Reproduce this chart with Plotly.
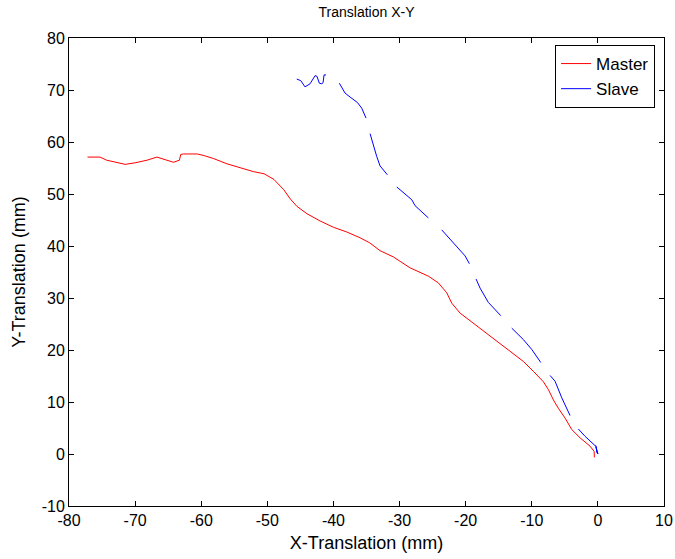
import plotly.graph_objects as go

# Master trajectory (mm)
master_x = [-77.2, -75.3, -74.3, -72.7, -71.5, -70.0, -68.2, -66.7, -66.2, -65.2, -64.2, -63.3,
            -63.1, -62.7, -60.6, -59.6, -58.1, -56.1, -54.1, -52.1, -50.5, -49.0, -47.5, -46.5,
            -45.5, -44.0, -42.0, -40.0, -38.0, -36.0, -34.5, -32.95, -30.94, -28.41, -25.64,
            -24.13, -22.86, -22.10, -20.85, -17.82, -14.80, -13.28, -11.27, -9.76, -8.25, -7.49,
            -6.73, -5.98, -4.96, -3.95, -2.69, -1.18, -0.57, -0.53]
master_y = [57.1, 57.1, 56.5, 56.0, 55.7, 56.0, 56.5, 57.1, 56.9, 56.5, 56.1, 56.5,
            57.6, 57.7, 57.7, 57.4, 56.8, 55.8, 55.0, 54.3, 53.9, 52.8, 50.8, 49.0,
            47.6, 46.2, 44.8, 43.6, 42.7, 41.6, 40.6, 39.1, 37.9, 35.8, 34.2,
            32.9, 31.0, 29.0, 27.1, 24.2, 21.2, 19.7, 17.8, 15.9, 13.9, 12.4,
            10.4, 8.8, 6.9, 4.7, 3.1, 1.5, 0.5, -0.65]

# Slave trajectory (mm), None marks dropouts
slave_x = [-45.55, -44.95, -44.30, -43.54, -42.78, -42.5, -42.13, -41.77, -41.57, -41.42, -41.12, None,
           -39.11, -38.24, -37.49, -36.38, -35.72, -35.07, None,
           -34.46, -33.96, -33.45, -32.95, -31.85, None,
           -30.42, -29.17, -28.15, -27.65, -25.64, None,
           -23.62, -22.36, -20.85, -20.09, -19.44, None,
           -18.43, -17.82, -16.57, -14.69, None,
           -13.03, -11.27, -10.0, -8.64, None,
           -7.23, -6.48, -5.46, -4.21, None,
           -2.95, -1.94, -0.42, -0.3, -0.1, -0.3, 0.0, -0.2, -0.05]
slave_y = [72.1, 71.8, 70.6, 71.2, 72.75, 72.65, 71.3, 71.2, 71.4, 72.9, 72.9, None,
           71.3, 69.4, 68.65, 67.6, 66.5, 64.6, None,
           61.6, 59.15, 57.2, 55.4, 53.7, None,
           51.35, 50.0, 48.9, 47.75, 45.4, None,
           43.1, 41.35, 39.3, 38.1, 36.6, None,
           33.65, 31.9, 29.15, 26.6, None,
           24.2, 22.0, 20.1, 17.6, None,
           15.1, 14.0, 10.8, 7.4, None,
           4.8, 3.4, 1.6, 1.6, 0.2, 1.4, 0.0, 1.2, 0.3]

x_ticks = [-80, -70, -60, -50, -40, -30, -20, -10, 0, 10]
y_ticks = [-10, 0, 10, 20, 30, 40, 50, 60, 70, 80]

font_family = "Liberation Sans, Arial, sans-serif"

fig = go.Figure()
fig.add_trace(go.Scatter(x=master_x, y=master_y, mode="lines", name="Master",
                         line=dict(color="#ff0000", width=1)))
fig.add_trace(go.Scatter(x=slave_x, y=slave_y, mode="lines", name="Slave",
                         line=dict(color="#0000ff", width=1), connectgaps=False))

axis_common = dict(showgrid=False, zeroline=False, showline=True, linecolor="black",
                   linewidth=1, mirror="ticks", ticks="inside", ticklen=5,
                   tickcolor="black", automargin=False,
                   tickfont=dict(size=16, color="black", family=font_family))

fig.update_layout(
    width=675, height=559,
    margin=dict(l=69, r=11, t=38, b=53),
    paper_bgcolor="white", plot_bgcolor="white",
    font=dict(family=font_family, color="black"),
    title=dict(text="Translation X-Y", x=0.543, xanchor="center", y=0.978, yanchor="middle",
               font=dict(size=14, color="black", family=font_family)),
    xaxis=dict(range=[-80, 10], tickvals=x_ticks, ticktext=[str(v) for v in x_ticks],
               title=dict(text="X-Translation (mm)", font=dict(size=18), standoff=8),
               **axis_common),
    yaxis=dict(range=[-10, 80], tickvals=y_ticks, ticktext=[str(v) for v in y_ticks],
               title=dict(text="Y-Translation (mm)", font=dict(size=18), standoff=11),
               **axis_common),
    legend=dict(x=0.985, y=0.985, xanchor="right", yanchor="top",
                bgcolor="white", bordercolor="black", borderwidth=1,
                font=dict(size=17, color="black", family=font_family),
                tracegroupgap=0, itemwidth=30),
    showlegend=True,
)

fig.write_html("out.html")
